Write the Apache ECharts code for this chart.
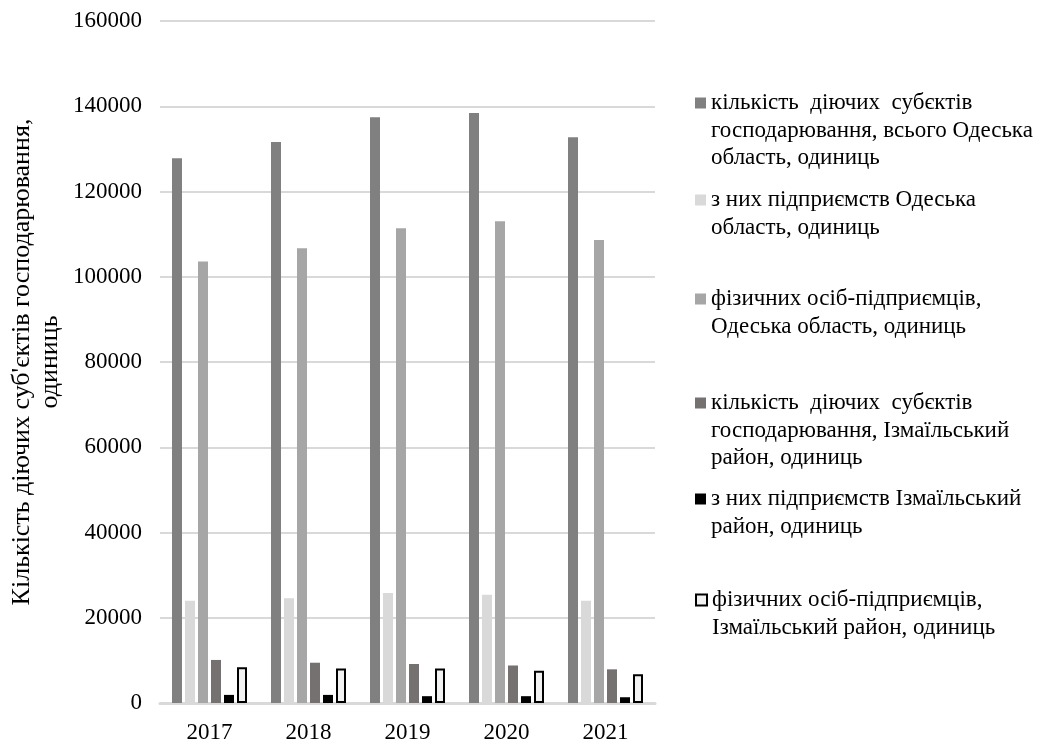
<!DOCTYPE html>
<html>
<head>
<meta charset="utf-8">
<script src="https://cdn.jsdelivr.net/npm/echarts@6/dist/echarts.min.js"></script>
<style>html,body{margin:0;padding:0;background:#fff;}#c{width:1044px;height:744px;}</style>
</head>
<body>
<div id="c"></div>
<script>
const years = ['2017', '2018', '2019', '2020', '2021'];
const seriesNames = [
  'кількість  діючих  субєктів\nгосподарювання, всього Одеська\nобласть, одиниць',
  'з них підприємств Одеська\nобласть, одиниць',
  'фізичних осіб-підприємців,\nОдеська область, одиниць',
  'кількість  діючих  субєктів\nгосподарювання, Ізмаїльський\nрайон, одиниць',
  'з них підприємств Ізмаїльський\nрайон, одиниць',
  'фізичних осіб-підприємців,\nІзмаїльський район, одиниць'
];
const totalOdesa = [127800, 131600, 137400, 138400, 132700];
const enterprisesOdesa = [24000, 24600, 25800, 25400, 24000];
const individualsOdesa = [103600, 106700, 111400, 113000, 108600];
const totalIzmail = [10100, 9450, 9150, 8800, 7900];
const enterprisesIzmail = [1900, 1900, 1600, 1600, 1350];
const individualsIzmail = [8400, 8100, 8100, 7550, 6750];
const yTicks = [0, 20000, 40000, 60000, 80000, 100000, 120000, 140000, 160000];
const yTitle = "Кількість діючих суб'єктів господарювання,\nодиниць";

const values = [totalOdesa, enterprisesOdesa, individualsOdesa, totalIzmail, enterprisesIzmail, individualsIzmail];
const colors = ['#808080', '#d9d9d9', '#a6a6a6', '#767171', '#000000', '#f2f2f2'];
const legendCenters = [103, 200, 299, 403, 499, 600];
const FONT = '"Liberation Serif", "DejaVu Serif", serif';
const LH = 27.5;

const chart = echarts.init(document.getElementById('c'), null, {renderer: 'canvas'});

const legends = seriesNames.map((name, i) => {
  const n = name.split('\n').length;
  const boxH = (2 * n - 1) * LH;
  return {
    data: [name],
    orient: 'vertical',
    left: 695,
    top: legendCenters[i] - boxH / 2,
    padding: 0,
    itemWidth: 11,
    itemHeight: 11,
    selectedMode: false,
    icon: 'rect',
    itemStyle: i === 5 ? {borderColor: '#000', borderWidth: 2} : {},
    formatter: function (nm) {
      const k = nm.split('\n').length;
      return '\n'.repeat(k - 1) + nm;
    },
    textStyle: {
      fontFamily: FONT,
      fontSize: 23,
      color: '#000',
      lineHeight: LH
    }
  };
});

const series = seriesNames.map((name, i) => ({
  name: name,
  type: 'bar',
  data: values[i],
  barWidth: 10,
  barGap: '30%',
  barCategoryGap: '24%',
  itemStyle: i === 5 ? {color: colors[i], borderColor: '#000', borderWidth: 2} : {color: colors[i]},
  emphasis: {disabled: true}
}));

chart.setOption({
  animation: false,
  backgroundColor: '#fff',
  legend: legends,
  grid: {left: 160, right: 389, top: 21, bottom: 40.5},
  xAxis: {
    type: 'category',
    data: years,
    axisLine: {show: true, lineStyle: {color: '#d9d9d9', width: 3}},
    axisTick: {show: false},
    axisLabel: {fontFamily: FONT, fontSize: 23, color: '#000', margin: 18}
  },
  yAxis: {
    type: 'value',
    min: yTicks[0],
    max: yTicks[yTicks.length - 1],
    interval: yTicks[1] - yTicks[0],
    name: yTitle,
    nameLocation: 'middle',
    nameRotate: 90,
    nameGap: 96,
    nameTextStyle: {fontFamily: FONT, fontSize: 26, color: '#000', lineHeight: 28},
    axisLine: {show: false},
    axisTick: {show: false},
    splitLine: {lineStyle: {color: '#d9d9d9', width: 2}},
    axisLabel: {fontFamily: FONT, fontSize: 23, color: '#000', margin: 18, formatter: function (v) { return String(v); }}
  },
  series: series
});
</script>
</body>
</html>
